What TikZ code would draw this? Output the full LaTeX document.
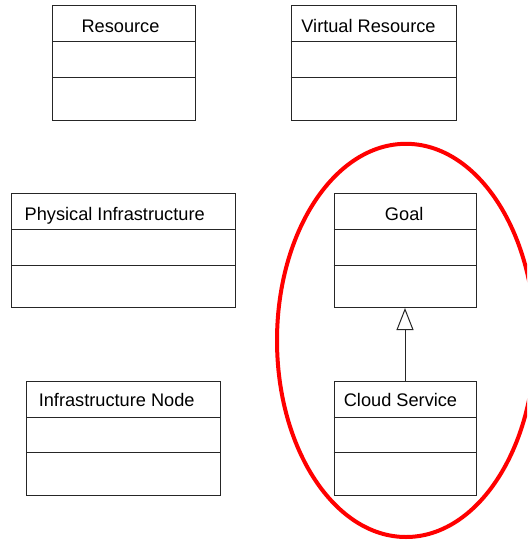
\documentclass[tikz,border=0pt]{standalone}
\usepackage{fontspec}
\setmainfont{Liberation Sans}
\usetikzlibrary{calc,arrows.meta}
\begin{document}
\begin{tikzpicture}[x=1pt,y=-1pt,
  classbox/.style={draw=black!85, line width=1pt, fill=white, inner sep=0pt,
                   minimum height=114pt},
  classtitle/.style={anchor=base, inner sep=0pt, font=\fontsize{18.2}{20}\selectfont},
  generalization/.style={draw=black!85, line width=1pt,
                   -{Triangle[open, width=17pt, length=22pt, line width=1pt, fill=white]}},
  highlight/.style={draw=red, line width=4pt}
]
\useasboundingbox (0,0) rectangle (527,543);
\clip (0,0) rectangle (527,543);

% class boxes
\node[classbox, minimum width=142.5pt] (resource) at (123.75,63) {};
\node[classbox, minimum width=165pt]   (virtual)  at (373.5,63) {};
\node[classbox, minimum width=223.6pt] (physical) at (123.5,250.5) {};
\node[classbox, minimum width=142pt]   (goal)     at (405,250.5) {};
\node[classbox, minimum width=193.6pt] (infra)    at (123.5,438.2) {};
\node[classbox, minimum width=142pt]   (cloud)    at (405,438.2) {};

% compartment separators
\foreach \c in {resource,virtual,physical,goal,infra,cloud}{
  \draw[black!85, line width=1pt] ($(\c.north west)+(0,36.5)$) -- ($(\c.north east)+(0,36.5)$);
  \draw[black!85, line width=1pt] ($(\c.north west)+(0,72)$) -- ($(\c.north east)+(0,72)$);
}

% class names
\node[classtitle] (resourcename) at (120.5,32.3) {Resource};
\node[classtitle] (virtualname)  at (368.5,32.3) {Virtual Resource};
\node[classtitle] (physicalname) at (114.7,220) {Physical Infrastructure};
\node[classtitle] (goalname)     at (404.2,220) {Goal};
\node[classtitle] (infraname)    at (116.7,406.7) {Infrastructure Node};
\node[classtitle] (cloudname)    at (400.5,406.7) {Cloud Service};

% generalization
\draw[generalization] (cloud.north) -- (goal.south);

% highlight around the goal hierarchy
\draw[highlight] (406,340.4) ellipse [x radius=129pt, y radius=196.6pt];
\end{tikzpicture}
\end{document}
